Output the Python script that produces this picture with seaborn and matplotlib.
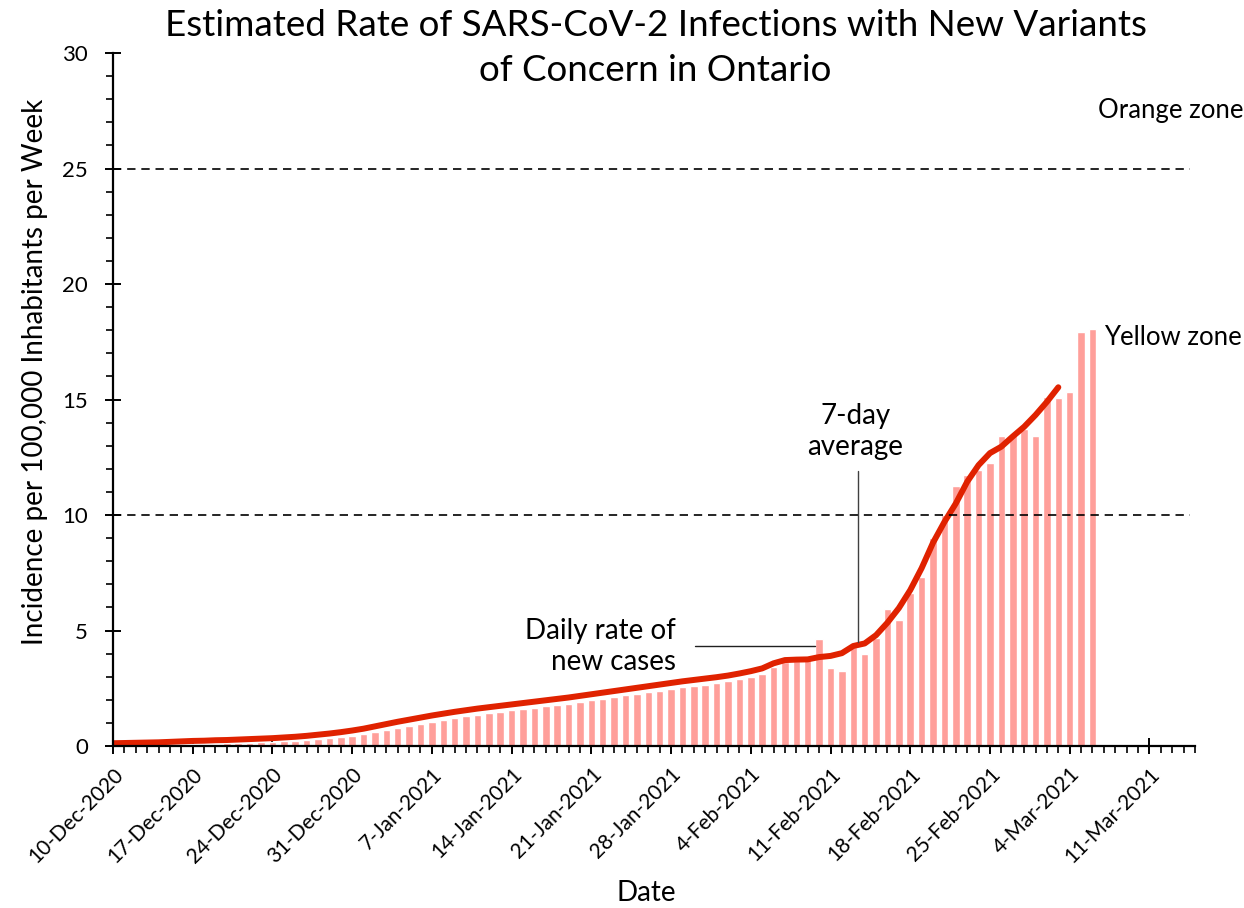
import numpy as np
import pandas as pd
import seaborn as sns
import matplotlib.pyplot as plt
from matplotlib.ticker import MultipleLocator

# data, one value per day starting 10-Dec-2020
start_date = "2020-12-10"

daily_rate = [
    0.03, 0.04, 0.04, 0.05, 0.05, 0.06, 0.07, 0.08, 0.09, 0.10,
    0.11, 0.12, 0.14, 0.16, 0.18, 0.20, 0.22, 0.25, 0.29, 0.33,
    0.38, 0.44, 0.52, 0.61, 0.70, 0.79, 0.88, 0.97, 1.06, 1.14,
    1.22, 1.29, 1.36, 1.42, 1.48, 1.54, 1.60, 1.66, 1.72, 1.78,
    1.84, 1.91, 1.98, 2.05, 2.12, 2.19, 2.26, 2.33, 2.40, 2.47,
    2.54, 2.60, 2.66, 2.73, 2.80, 2.88, 2.98, 3.12, 3.40, 3.62,
    3.70, 3.72, 4.65, 3.39, 3.25, 4.30, 3.98, 4.66, 5.93, 5.45,
    6.64, 7.32, 9.00, 10.00, 11.25, 11.75, 11.95, 12.27, 13.40, 13.45,
    13.74, 13.42, 15.10, 15.05, 15.32, 17.92, 18.04,
]

avg_7day = [
    0.12, 0.13, 0.14, 0.15, 0.16, 0.18, 0.20, 0.22, 0.23, 0.25,
    0.26, 0.28, 0.30, 0.32, 0.34, 0.37, 0.40, 0.44, 0.49, 0.54,
    0.60, 0.67, 0.75, 0.85, 0.95, 1.05, 1.14, 1.23, 1.32, 1.40,
    1.48, 1.55, 1.62, 1.68, 1.74, 1.80, 1.86, 1.92, 1.98, 2.04,
    2.10, 2.17, 2.24, 2.31, 2.38, 2.45, 2.52, 2.59, 2.66, 2.73,
    2.80, 2.86, 2.92, 2.98, 3.05, 3.14, 3.24, 3.36, 3.58, 3.72,
    3.74, 3.75, 3.85, 3.90, 4.02, 4.33, 4.44, 4.80, 5.34, 5.97,
    6.75, 7.70, 8.80, 9.70, 10.50, 11.44, 12.16, 12.68, 12.96, 13.40,
    13.82, 14.33, 14.90, 15.53,
]

zone_levels = [10, 25]

days = np.arange(len(daily_rate))
bar_df = pd.DataFrame({"day": days, "rate": daily_rate})
avg_df = pd.DataFrame({"day": days[:len(avg_7day)], "avg": avg_7day})

tick_dates = pd.date_range(start_date, periods=14, freq="7D")
tick_labels = [f"{d.day}-{d:%b-%Y}" for d in tick_dates]
tick_pos = (tick_dates - pd.Timestamp(start_date)).days

sns.set_theme(style="ticks")
plt.rcParams["font.family"] = ["Lato", "DejaVu Sans"]
plt.rcParams["text.color"] = "black"

fig = plt.figure(figsize=(12.44, 9.08), dpi=100)
ax = fig.add_axes([0.0908, 0.1784, 0.8698, 0.7632])

sns.barplot(data=bar_df, x="day", y="rate", native_scale=True, color="#FF9F9A",
            saturation=1, width=0.66, errorbar=None, ax=ax)
sns.lineplot(data=avg_df, x="day", y="avg", color="#E02200", lw=4.3,
             solid_capstyle="round", ax=ax)

for lvl in zone_levels:
    ax.axhline(lvl, xmax=0.995, color="black", lw=1.2, ls=(0, (5, 3.5)))

ax.set_xlim(0, 95)
ax.set_ylim(0, 30)
ax.yaxis.set_major_locator(MultipleLocator(5))
ax.yaxis.set_minor_locator(MultipleLocator(1))
ax.set_xticks(tick_pos)
ax.set_xticklabels(tick_labels, rotation=45, ha="right", rotation_mode="anchor")
ax.xaxis.set_minor_locator(MultipleLocator(1))
ax.tick_params(which="major", direction="inout", length=12, width=1.4,
               labelsize=16, color="black", labelcolor="black")
ax.tick_params(axis="x", which="major", labelsize=15, pad=7)
ax.tick_params(axis="y", which="major", pad=12)
ax.tick_params(which="minor", direction="out", length=5, width=1.2, color="black")
ax.set_xlabel("")
ax.set_ylabel("")
sns.despine(ax=ax)
for side in ["left", "bottom"]:
    ax.spines[side].set_linewidth(1.6)
    ax.spines[side].set_color("black")

fig.text(0.527, 0.99, "Estimated Rate of SARS-CoV-2 Infections with New Variants\nof Concern in Ontario",
         ha="center", va="top", fontsize=26.5, linespacing=1.45)
fig.text(0.028, 1 - 372 / 908, "Incidence per 100,000 Inhabitants per Week",
         rotation=90, ha="center", va="center", fontsize=20)
fig.text(646 / 1244, 1 - 893 / 908, "Date", ha="center", va="center", fontsize=20)

ax.text(65.2, 13.6, "7-day\naverage", ha="center", va="center", fontsize=20,
        linespacing=1.25)
ax.plot([65.4, 65.4], [4.5, 11.9], color="#404040", lw=1)
ax.text(49.4, 4.3, "Daily rate of\nnew cases", ha="right", va="center",
        fontsize=20, linespacing=1.25, multialignment="right")
ax.plot([51.1, 61.6], [4.33, 4.33], color="#202020", lw=1)

ax.text(86.5, 27.5, "Orange zone", ha="left", va="center", fontsize=18.5, clip_on=False)
ax.text(87.0, 17.7, "Yellow zone", ha="left", va="center", fontsize=18.5, clip_on=False)

fig.savefig("out.png", dpi=100)
